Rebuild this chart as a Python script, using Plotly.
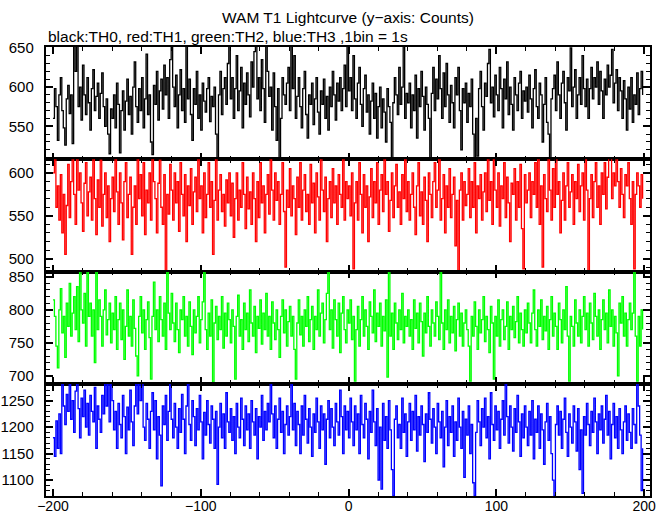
import plotly.graph_objects as go

# time bins (1 bin = 1 s)
time_s = list(range(-200, 200))

th0 = [
560, 598, 575, 532, 590, 612, 570, 548, 526, 585, 602, 566, 590, 528, 655, 620, 660, 575, 600, 558, 628, 590, 565, 612, 580, 545, 598, 622, 570, 588, 605, 560, 592, 618, 575, 550, 585, 540, 515, 572,
560, 590, 548, 605, 578, 516, 570, 595, 545, 582, 610, 565, 588, 540, 600, 632, 575, 555, 598, 570, 612, 548, 585, 642, 565, 590, 530, 514, 602, 578, 620, 558, 595, 610, 572, 628, 590, 612, 560, 635,
662, 600, 575, 615, 548, 590, 622, 570, 598, 555, 658, 585, 610, 565, 532, 598, 578, 620, 560, 590, 545, 605, 582, 568, 598, 612, 556, 588, 575, 600, 540, 508, 590, 620, 565, 598, 612, 578, 630, 660,
585, 612, 560, 598, 640, 570, 595, 625, 548, 605, 578, 618, 590, 562, 632, 600, 645, 660, 585, 612, 570, 635, 598, 555, 662, 620, 588, 600, 545, 618, 575, 532, 598, 508, 560, 612, 590, 578, 605, 625,
570, 655, 598, 640, 560, 588, 612, 575, 548, 598, 620, 565, 535, 590, 578, 605, 552, 585, 612, 568, 540, 595, 578, 610, 560, 588, 545, 600, 575, 620, 590, 558, 605, 582, 612, 570, 598, 628, 575, 660,
595, 612, 570, 640, 585, 560, 605, 625, 578, 550, 598, 615, 568, 590, 540, 582, 605, 560, 592, 535, 575, 600, 548, 585, 568, 530, 598, 575, 555, 508, 580, 612, 590, 565, 625, 578, 600, 665, 560, 592,
580, 605, 548, 590, 570, 615, 535, 598, 575, 620, 588, 545, 600, 578, 560, 508, 592, 625, 570, 610, 585, 640, 598, 560, 618, 575, 630, 590, 555, 602, 580, 548, 612, 590, 625, 570, 520, 598, 580, 605,
555, 592, 575, 610, 540, 508, 560, 512, 598, 620, 575, 545, 605, 588, 630, 648, 580, 600, 562, 615, 590, 570, 625, 598, 548, 610, 585, 632, 565, 600, 578, 545, 612, 590, 570, 605, 620, 560, 595, 582,
600, 568, 615, 585, 548, 598, 622, 575, 560, 605, 590, 530, 578, 612, 555, 540, 508, 585, 598, 615, 570, 632, 590, 560, 605, 620, 580, 545, 612, 595, 650, 575, 600, 622, 560, 590, 612, 578, 640, 598,
575, 610, 560, 598, 625, 585, 612, 600, 632, 578, 620, 595, 560, 610, 590, 628, 600, 615, 648, 580, 605, 622, 570, 612, 595, 560, 608, 585, 545, 600, 572, 612, 555, 590, 578, 618, 565, 598, 620, 590,
]

th1 = [
600, 622, 560, 585, 545, 598, 530, 575, 505, 562, 610, 548, 590, 620, 575, 540, 625, 580, 600, 565, 532, 588, 612, 550, 578, 595, 545, 620, 570, 528, 592, 560, 615, 538, 575, 600, 548, 585, 520, 570,
595, 555, 618, 578, 540, 600, 565, 522, 590, 612, 548, 575, 595, 505, 560, 585, 540, 620, 570, 598, 550, 612, 528, 580, 565, 600, 545, 622, 590, 570, 530, 588, 615, 560, 540, 598, 485, 575, 552, 610,
580, 545, 600, 565, 590, 532, 612, 575, 550, 598, 520, 585, 562, 605, 540, 578, 595, 555, 618, 570, 585, 530, 600, 548, 575, 612, 560, 590, 505, 568, 620, 545, 580, 598, 555, 575, 538, 592, 565, 600,
550, 588, 525, 570, 600, 545, 580, 560, 612, 575, 535, 595, 558, 578, 540, 600, 570, 520, 590, 548, 612, 565, 585, 530, 575, 598, 552, 620, 580, 545, 600, 568, 590, 540, 575, 612, 555, 490, 580, 560,
605, 550, 585, 570, 528, 595, 560, 612, 545, 580, 598, 555, 575, 540, 610, 565, 588, 530, 600, 572, 545, 618, 580, 555, 595, 520, 570, 590, 548, 605, 565, 585, 540, 598, 575, 560, 620, 545, 590, 570,
585, 550, 600, 488, 565, 590, 545, 612, 575, 530, 598, 560, 585, 520, 572, 605, 548, 590, 565, 612, 540, 580, 598, 555, 620, 575, 590, 532, 568, 600, 548, 585, 610, 560, 578, 540, 598, 570, 622, 555,
590, 545, 575, 600, 560, 528, 585, 612, 550, 578, 540, 595, 568, 520, 600, 575, 548, 590, 612, 560, 580, 625, 545, 570, 598, 530, 585, 560, 605, 548, 575, 595, 515, 568, 486, 580, 600, 545, 590, 562,
575, 605, 548, 590, 560, 612, 530, 585, 570, 598, 545, 578, 600, 555, 620, 568, 590, 540, 625, 580, 560, 600, 538, 585, 570, 612, 548, 595, 565, 520, 588, 575, 605, 545, 590, 560, 610, 535, 488, 598,
565, 580, 600, 548, 590, 575, 612, 560, 625, 540, 585, 490, 598, 570, 555, 622, 580, 545, 605, 560, 620, 575, 590, 530, 568, 600, 545, 585, 612, 560, 578, 598, 540, 590, 570, 610, 555, 585, 600, 545,
625, 580, 486, 570, 598, 548, 590, 612, 560, 585, 540, 600, 575, 612, 558, 595, 620, 628, 570, 600, 585, 622, 590, 560, 605, 575, 548, 598, 585, 612, 570, 540, 590, 488, 575, 600, 585, 560, 598, 570,
]

th2 = [
815, 790, 745, 712, 800, 832, 765, 790, 728, 810, 775, 840, 760, 795, 820, 770, 835, 752, 862, 800, 780, 825, 745, 865, 790, 810, 760, 800, 720, 862, 770, 815, 790, 745, 800, 830, 762, 785, 810, 750,
795, 770, 820, 740, 785, 810, 755, 800, 725, 775, 830, 760, 790, 745, 815, 772, 730, 700, 790, 820, 765, 800, 740, 785, 812, 758, 695, 790, 842, 770, 800, 752, 820, 785, 760, 810, 740, 862, 795, 770,
825, 780, 752, 810, 770, 735, 800, 785, 820, 760, 790, 745, 812, 775, 732, 800, 765, 790, 820, 750, 785, 812, 862, 770, 740, 795, 760, 815, 690, 780, 805, 755, 790, 770, 820, 742, 795, 760, 810, 785,
750, 800, 775, 695, 790, 822, 760, 785, 740, 810, 770, 795, 752, 830, 780, 760, 805, 735, 790, 772, 815, 748, 795, 770, 825, 760, 790, 740, 812, 780, 755, 800, 770, 728, 790, 815, 765, 800, 745, 782,
805, 760, 790, 740, 695, 780, 815, 762, 790, 745, 800, 775, 820, 752, 785, 805, 740, 790, 770, 830, 760, 795, 810, 750, 785, 825, 862, 770, 800, 742, 815, 785, 760, 810, 735, 795, 820, 770, 750, 800,
780, 815, 755, 790, 692, 770, 805, 745, 785, 820, 760, 800, 775, 740, 812, 790, 765, 830, 752, 795, 775, 810, 745, 790, 768, 815, 698, 862, 760, 795, 740, 810, 780, 755, 800, 770, 825, 750, 790, 775,
800, 760, 785, 740, 815, 772, 795, 750, 810, 782, 730, 795, 765, 820, 775, 745, 800, 780, 760, 812, 790, 755, 862, 780, 740, 800, 770, 815, 750, 790, 765, 805, 738, 785, 810, 760, 795, 745, 780, 800,
770, 745, 692, 790, 760, 812, 775, 740, 800, 765, 785, 820, 752, 790, 770, 735, 805, 780, 695, 790, 760, 815, 745, 785, 800, 755, 775, 812, 740, 790, 770, 805, 758, 782, 820, 750, 795, 770, 745, 800,
765, 810, 780, 750, 795, 830, 770, 745, 800, 775, 815, 755, 790, 768, 805, 740, 785, 820, 760, 795, 775, 740, 810, 785, 750, 800, 770, 835, 760, 692, 790, 775, 745, 815, 780, 760, 800, 750, 790, 820,
770, 795, 745, 810, 780, 755, 825, 790, 760, 800, 740, 785, 815, 770, 795, 750, 830, 775, 800, 745, 790, 765, 700, 810, 780, 820, 760, 795, 745, 785, 810, 770, 795, 862, 760, 692, 790, 745, 800, 770,
]

th3 = [
1180, 1145, 1212, 1160, 1225, 1150, 1290, 1240, 1205, 1262, 1230, 1290, 1215, 1250, 1190, 1268, 1290, 1235, 1180, 1255, 1220, 1270, 1200, 1245, 1185, 1260, 1230, 1210, 1275, 1160, 1240, 1215, 1190, 1260, 1225, 1290, 1240, 1285, 1210, 1290,
1250, 1195, 1230, 1160, 1245, 1205, 1180, 1260, 1220, 1150, 1238, 1195, 1270, 1210, 1165, 1240, 1290, 1225, 1290, 1250, 1285, 1200, 1175, 1245, 1215, 1160, 1230, 1265, 1195, 1250, 1140, 1220, 1185, 1089, 1240, 1205, 1260, 1175, 1230, 1290,
1215, 1180, 1245, 1200, 1160, 1235, 1190, 1262, 1215, 1150, 1240, 1290, 1205, 1175, 1250, 1220, 1165, 1235, 1195, 1260, 1210, 1140, 1228, 1185, 1250, 1205, 1170, 1240, 1215, 1160, 1230, 1092, 1200, 1245, 1180, 1225, 1160, 1265, 1210, 1190,
1235, 1175, 1220, 1150, 1245, 1200, 1180, 1255, 1215, 1165, 1240, 1195, 1225, 1160, 1250, 1210, 1185, 1235, 1140, 1220, 1200, 1260, 1175, 1230, 1195, 1245, 1210, 1290, 1225, 1180, 1240, 1160, 1215, 1255, 1190, 1230, 1150, 1205, 1240, 1185,
1220, 1290, 1195, 1245, 1165, 1230, 1205, 1150, 1240, 1185, 1260, 1215, 1170, 1235, 1200, 1145, 1225, 1190, 1255, 1210, 1160, 1240, 1195, 1225, 1130, 1215, 1250, 1180, 1235, 1200, 1165, 1245, 1210, 1185, 1270, 1220, 1150, 1240, 1195, 1230,
1180, 1255, 1210, 1165, 1240, 1195, 1225, 1150, 1260, 1205, 1180, 1245, 1215, 1140, 1230, 1190, 1270, 1210, 1165, 1235, 1100, 1200, 1083, 1245, 1175, 1220, 1160, 1250, 1195, 1120, 1070, 1215, 1240, 1180, 1205, 1160, 1255, 1190, 1225, 1145,
1210, 1245, 1175, 1230, 1195, 1260, 1155, 1220, 1185, 1240, 1205, 1135, 1225, 1190, 1265, 1215, 1170, 1235, 1200, 1150, 1245, 1210, 1180, 1230, 1125, 1200, 1250, 1165, 1220, 1190, 1240, 1145, 1210, 1175, 1255, 1200, 1160, 1230, 1105, 1215,
1185, 1240, 1150, 1205, 1095, 1070, 1190, 1250, 1210, 1165, 1235, 1200, 1255, 1180, 1220, 1140, 1265, 1205, 1175, 1240, 1195, 1230, 1160, 1215, 1250, 1185, 1290, 1220, 1170, 1240, 1200, 1155, 1235, 1190, 1260, 1210, 1145, 1225, 1180, 1240,
1200, 1165, 1230, 1185, 1250, 1140, 1215, 1190, 1240, 1160, 1225, 1195, 1130, 1210, 1245, 1175, 1220, 1150, 1100, 1070, 1205, 1240, 1185, 1230, 1160, 1215, 1255, 1190, 1145, 1225, 1200, 1170, 1240, 1210, 1155, 1235, 1120, 1195, 1075, 1220,
1185, 1245, 1205, 1165, 1230, 1190, 1255, 1210, 1150, 1225, 1195, 1240, 1170, 1215, 1260, 1185, 1230, 1140, 1205, 1245, 1180, 1220, 1160, 1235, 1195, 1150, 1210, 1240, 1175, 1225, 1190, 1160, 1235, 1205, 1170, 1290, 1240, 1185, 1080, 1160,
]

series = [th0, th1, th2, th3]
colors = ["#000000", "#ff0000", "#00ff00", "#0000ff"]
y_ranges = [[508, 651], [485, 616], [688, 858], [1070, 1282]]
x_range = [-204.7, 204]

FONT = "Liberation Sans, Arial, Helvetica, sans-serif"

fig = go.Figure()
layout = {}
for k, (vals, col, yr) in enumerate(zip(series, colors, y_ranges)):
    n = "" if k == 0 else str(k + 1)
    fig.add_trace(go.Scatter(
        x=time_s, y=vals, mode="lines", line=dict(color=col, width=1.3, shape="hv"),
        xaxis="x" + n, yaxis="y" + n, showlegend=False, hoverinfo="skip"))
    top = 1 - k / 4
    bot = 1 - (k + 1) / 4
    layout["xaxis" + n] = dict(
        domain=[0, 1], anchor="y" + n, range=x_range, dtick=100, tick0=0,
        ticks="inside", ticklen=7, tickwidth=1.5, tickcolor="black",
        minor=dict(ticks="inside", ticklen=4, dtick=20, tick0=0, tickcolor="black", tickwidth=1),
        showline=True, linecolor="black", linewidth=1.5, mirror="ticks",
        showgrid=False, zeroline=False, showticklabels=(k == 3), automargin=False,
        ticklabelstandoff=-4,
        tickfont=dict(family=FONT, size=14, color="black"),
    )
    layout["yaxis" + n] = dict(
        domain=[bot, top], anchor="x" + n, range=yr, dtick=50, tick0=0,
        ticks="inside", ticklen=7, tickwidth=1.5, tickcolor="black",
        minor=dict(ticks="inside", ticklen=4, dtick=10, tick0=0, tickcolor="black", tickwidth=1),
        showline=True, linecolor="black", linewidth=1.5, mirror="ticks",
        showgrid=False, zeroline=False, automargin=False,
        ticksuffix="\u2002",
        tickfont=dict(family=FONT, size=15, color="black"),
    )

fig.update_layout(
    width=669, height=515, autosize=False,
    margin=dict(l=46, r=19, t=47, b=19, pad=0, autoexpand=False),
    paper_bgcolor="white", plot_bgcolor="white",
    font=dict(family=FONT, size=15, color="black"),
    annotations=[
        dict(text="WAM T1 Lightcurve (y\u2212axis: Counts)", xref="paper", yref="paper",
             x=0.5, y=1, xanchor="center", yanchor="middle", yshift=30, showarrow=False,
             font=dict(family=FONT, size=15.5, color="black")),
        dict(text="black:TH0, red:TH1, green:TH2, blue:TH3 ,1bin = 1s", xref="paper", yref="paper",
             x=0, y=1, xanchor="left", yanchor="middle", yshift=11, showarrow=False,
             font=dict(family=FONT, size=15.5, color="black")),
    ],
    **layout,
)

fig.write_html("out.html", config={"displayModeBar": False},
               post_script="document.body.style.margin='0';")
